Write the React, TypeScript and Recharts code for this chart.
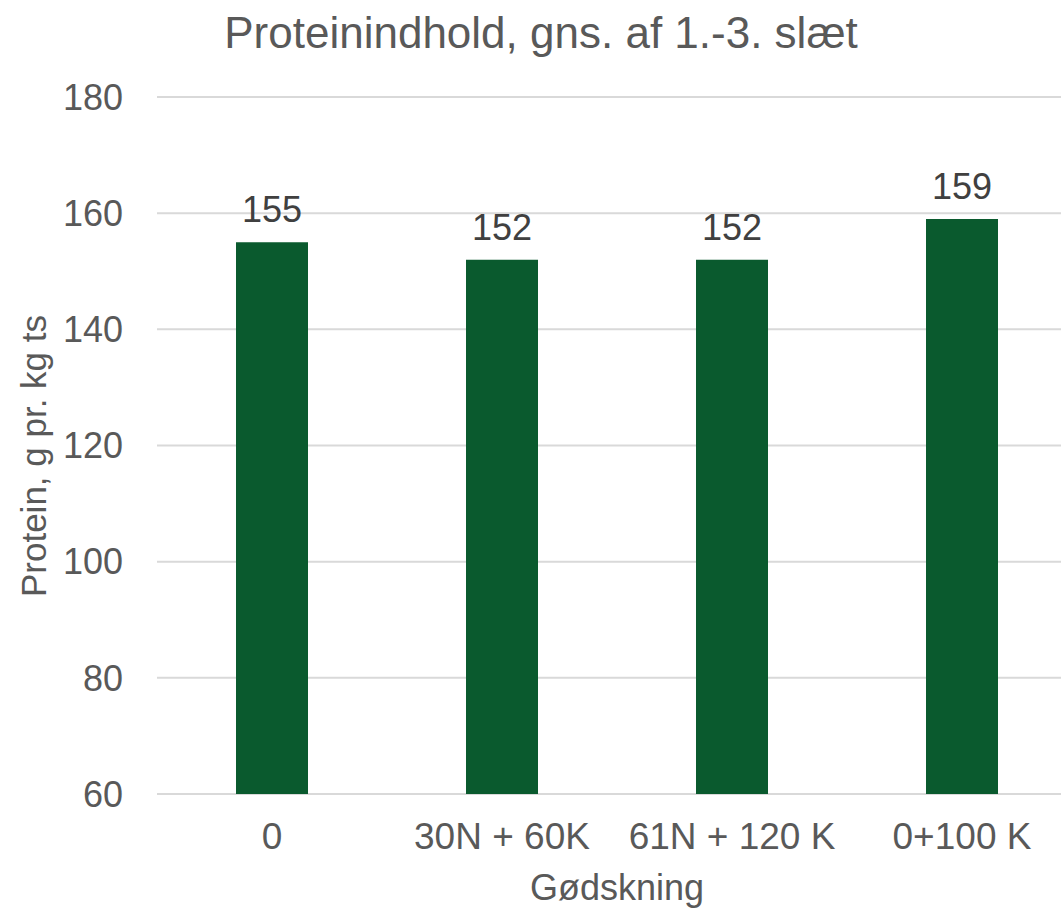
import React from 'react';
import { BarChart, Bar, XAxis, YAxis, CartesianGrid, LabelList } from 'recharts';

const categories = ['0', '30N + 60K', '61N + 120 K', '0+100 K'];
const protein = [155, 152, 152, 159];
const yTicks = [60, 80, 100, 120, 140, 160, 180];

const data = categories.map((name, i) => ({ name, protein: protein[i] }));

const FONT = '"Liberation Sans", Arial, sans-serif';
const GREY = '#595959';

export default function App() {
    return (
        <div style={{ position: 'absolute', left: 0, top: 0, width: 1061, height: 909, overflow: 'hidden', background: '#fff', fontFamily: FONT }}>
            <BarChart width={1080} height={909} data={data} margin={{ top: 97, right: 3, left: 0, bottom: 0 }}>
                <CartesianGrid vertical={false} stroke="#d9d9d9" strokeWidth={2} />
                <XAxis
                    dataKey="name"
                    height={115}
                    axisLine={false}
                    tickLine={false}
                    tickSize={0}
                    tickMargin={29}
                    tick={{ fill: GREY, fontSize: 37, fontFamily: FONT }}
                    interval={0}
                />
                <YAxis
                    width={157}
                    domain={[60, 180]}
                    ticks={yTicks}
                    axisLine={false}
                    tickLine={false}
                    tickSize={0}
                    tickMargin={34}
                    tick={{ fill: GREY, fontSize: 36, fontFamily: FONT }}
                />
                <Bar dataKey="protein" fill="#0a5a2e" barSize={72} isAnimationActive={false}>
                    <LabelList dataKey="protein" position="top" offset={20} fill="#404040" fontSize={36} fontFamily={FONT} />
                </Bar>
            </BarChart>
            <svg width={1061} height={909} style={{ position: 'absolute', left: 0, top: 0, pointerEvents: 'none' }}>
                <text x={541} y={48} textAnchor="middle" fill={GREY} fontSize={44} fontFamily={FONT}>
                    Proteinindhold, gns. af 1.-3. slæt
                </text>
                <text x={617} y={900} textAnchor="middle" fill={GREY} fontSize={36} fontFamily={FONT}>
                    Gødskning
                </text>
                <text transform="translate(46, 456) rotate(-90)" textAnchor="middle" fill={GREY} fontSize={35} fontFamily={FONT}>
                    Protein, g pr. kg ts
                </text>
            </svg>
        </div>
    );
}
